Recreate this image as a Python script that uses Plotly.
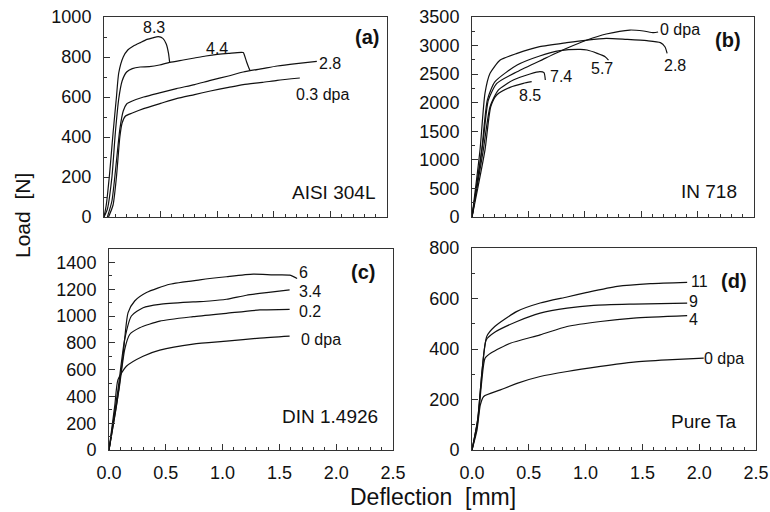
import plotly.graph_objects as go

# ---- (a) AISI 304L ----
a_83_x = [0.0, 0.02, 0.05, 0.08, 0.11, 0.13, 0.17, 0.21, 0.26, 0.32, 0.38, 0.43, 0.48, 0.52, 0.55, 0.57, 0.58]
a_83_y = [0, 60, 220, 420, 600, 720, 800, 835, 855, 872, 888, 896, 902, 893, 865, 818, 772]
a_44_x = [0.0, 0.03, 0.07, 0.10, 0.13, 0.16, 0.20, 0.25, 0.32, 0.40, 0.49, 0.58, 0.70, 0.80, 0.90, 1.00, 1.10, 1.23, 1.24, 1.26, 1.28, 1.29]
a_44_y = [0, 40, 200, 420, 590, 680, 725, 742, 750, 752, 760, 773, 785, 795, 805, 813, 818, 822, 810, 775, 745, 732]
a_28_x = [0.03, 0.07, 0.11, 0.14, 0.17, 0.20, 0.25, 0.35, 0.50, 0.64, 0.80, 0.94, 1.10, 1.23, 1.40, 1.53, 1.70, 1.88]
a_28_y = [0, 80, 280, 440, 530, 565, 580, 600, 622, 642, 662, 683, 705, 725, 742, 755, 767, 778]
a_03_x = [0.04, 0.08, 0.11, 0.14, 0.16, 0.19, 0.25, 0.35, 0.50, 0.64, 0.80, 0.94, 1.10, 1.23, 1.40, 1.53, 1.73]
a_03_y = [0, 60, 200, 400, 470, 505, 520, 542, 568, 592, 612, 630, 648, 662, 673, 683, 695]

# ---- (b) IN 718 ----
b_0_x = [0.0, 0.05, 0.10, 0.145, 0.22, 0.40, 0.63, 0.84, 1.02, 1.19, 1.40, 1.52, 1.61, 1.65]
b_0_y = [0, 650, 1347, 2047, 2339, 2543, 2759, 2952, 3097, 3202, 3272, 3255, 3226, 3238]
b_28_x = [0.0, 0.071, 0.115, 0.16, 0.25, 0.40, 0.60, 0.84, 1.02, 1.19, 1.37, 1.55, 1.67, 1.71, 1.73]
b_28_y = [0, 1172, 2164, 2514, 2747, 2864, 2980, 3051, 3097, 3126, 3108, 3085, 3051, 2980, 2864]
b_57_x = [0.0, 0.086, 0.136, 0.204, 0.40, 0.60, 0.78, 0.96, 1.02, 1.11, 1.18, 1.21]
b_57_y = [0, 1172, 2047, 2368, 2660, 2818, 2911, 2934, 2922, 2864, 2806, 2747]
b_74_x = [0.0, 0.10, 0.16, 0.233, 0.366, 0.514, 0.603, 0.638, 0.65]
b_74_y = [0, 1172, 1930, 2222, 2397, 2502, 2543, 2526, 2397]
b_85_x = [0.0, 0.115, 0.166, 0.219, 0.337, 0.455, 0.529]
b_85_y = [0, 1172, 1930, 2135, 2269, 2339, 2368]

# ---- (c) DIN 1.4926 ----
c_6_x = [0.0, 0.065, 0.123, 0.168, 0.226, 0.33, 0.535, 0.80, 1.034, 1.27, 1.445, 1.59, 1.656]
c_6_y = [0, 325, 700, 1025, 1112, 1175, 1237, 1270, 1293, 1312, 1307, 1305, 1280]
c_34_x = [0.0, 0.079, 0.138, 0.197, 0.30, 0.447, 0.74, 0.887, 1.034, 1.21, 1.387, 1.59]
c_34_y = [0, 450, 825, 1000, 1062, 1087, 1105, 1112, 1125, 1155, 1175, 1195]
c_02_x = [0.0, 0.088, 0.138, 0.182, 0.27, 0.447, 0.74, 1.034, 1.328, 1.59]
c_02_y = [0, 450, 750, 862, 912, 962, 995, 1020, 1045, 1050]
c_0_x = [0.0, 0.05, 0.079, 0.153, 0.30, 0.447, 0.74, 1.034, 1.328, 1.59]
c_0_y = [0, 325, 525, 625, 700, 745, 790, 812, 835, 850]

# ---- (d) Pure Ta ----
d_11_x = [0.0, 0.05, 0.09, 0.13, 0.20, 0.396, 0.60, 0.837, 1.013, 1.278, 1.571, 1.894]
d_11_y = [0, 120, 320, 450, 489, 549, 582, 606, 624, 648, 659, 664]
d_9_x = [0.0, 0.05, 0.09, 0.125, 0.20, 0.396, 0.60, 0.837, 1.071, 1.424, 1.894]
d_9_y = [0, 120, 320, 436, 466, 509, 542, 562, 573, 578, 582]
d_4_x = [0.0, 0.05, 0.085, 0.115, 0.17, 0.337, 0.60, 0.837, 1.131, 1.424, 1.894]
d_4_y = [0, 110, 270, 364, 385, 423, 456, 489, 509, 522, 532]
d_0_x = [0.0, 0.044, 0.073, 0.103, 0.25, 0.396, 0.60, 0.837, 1.131, 1.424, 1.718, 2.04]
d_0_y = [0, 79, 178, 212, 238, 264, 291, 311, 331, 348, 357, 364]

# curve labels: (text, x, y)
a_labels = [("8.3", 0.44, 948), ("4.4", 0.995, 843), ("2.8", 2.0, 768), ("0.3 dpa", 1.93, 615)]
b_labels = [("0 dpa", 1.844, 3284), ("2.8", 1.80, 2660), ("5.7", 1.15, 2602), ("7.4", 0.786, 2467), ("8.5", 0.514, 2123)]
c_labels = [("6", 1.71, 1325), ("3.4", 1.77, 1180), ("0.2", 1.77, 1037), ("0 dpa", 1.87, 825)]
d_labels = [("11", 2.0, 668), ("9", 1.95, 588), ("4", 1.95, 516), ("0 dpa", 2.217, 364)]

panel_tags = [("(a)", 2.32, 901), ("(b)", 2.27, 3097), ("(c)", 2.24, 1325), ("(d)", 2.305, 668)]
materials = [("AISI 304L", 2.03, 123), ("IN 718", 2.10, 443), ("DIN 1.4926", 1.944, 250), ("Pure Ta", 2.04, 112)]

W, H = 770, 512
FONT = "Liberation Sans, Arial, sans-serif"

fig = go.Figure()

panels = [
    ("x", "y", [(a_83_x, a_83_y), (a_44_x, a_44_y), (a_28_x, a_28_y), (a_03_x, a_03_y)], a_labels),
    ("x2", "y2", [(b_0_x, b_0_y), (b_28_x, b_28_y), (b_57_x, b_57_y), (b_74_x, b_74_y), (b_85_x, b_85_y)], b_labels),
    ("x3", "y3", [(c_6_x, c_6_y), (c_34_x, c_34_y), (c_02_x, c_02_y), (c_0_x, c_0_y)], c_labels),
    ("x4", "y4", [(d_11_x, d_11_y), (d_9_x, d_9_y), (d_4_x, d_4_y), (d_0_x, d_0_y)], d_labels),
]

annotations = []
for i, (xa, ya, curves, labels) in enumerate(panels):
    for cx, cy in curves:
        fig.add_trace(go.Scatter(x=cx, y=cy, xaxis=xa, yaxis=ya, mode="lines",
                                 line=dict(color="#111111", width=1.2, shape="spline", smoothing=0.6),
                                 showlegend=False, hoverinfo="skip"))
    for text, lx, ly in labels:
        annotations.append(dict(text=text, x=lx, y=ly, xref=xa, yref=ya, showarrow=False,
                                font=dict(family=FONT, size=16, color="#111111")))
    tag = panel_tags[i]
    annotations.append(dict(text="<b>%s</b>" % tag[0], x=tag[1], y=tag[2], xref=xa, yref=ya,
                            showarrow=False, font=dict(family=FONT, size=20, color="#111111")))
    mat = materials[i]
    annotations.append(dict(text=mat[0], x=mat[1], y=mat[2], xref=xa, yref=ya,
                            showarrow=False, font=dict(family=FONT, size=19, color="#111111")))

annotations.append(dict(text="Load  [N]", x=22 / W, y=1 - 216 / H, xref="paper", yref="paper",
                        xanchor="center", yanchor="middle",
                        textangle=-90, showarrow=False, font=dict(family=FONT, size=21, color="#111111")))
annotations.append(dict(text="Deflection  [mm]", x=433 / W, y=1 - 497 / H, xref="paper", yref="paper",
                        xanchor="center", yanchor="middle",
                        showarrow=False, font=dict(family=FONT, size=23, color="#111111")))


def xaxis(dom, anchor, labels):
    return dict(domain=dom, anchor=anchor, range=[0, 2.5], dtick=0.5, tick0=0, tickformat=".1f",
                ticks="inside", ticklen=6, tickcolor="#333333", showticklabels=labels,
                minor=dict(ticks="inside", ticklen=3, dtick=0.1, tickcolor="#333333"),
                showline=True, mirror=True, linecolor="#333333", linewidth=1,
                showgrid=False, zeroline=False, ticklabelstandoff=6, automargin=False,
                tickfont=dict(family=FONT, size=18, color="#111111"))


def yaxis(dom, anchor, top, major, minor):
    return dict(domain=dom, anchor=anchor, range=[0, top], dtick=major, tick0=0,
                ticks="inside", ticklen=6, tickcolor="#333333",
                minor=dict(ticks="inside", ticklen=3, dtick=minor, tickcolor="#333333"),
                showline=True, mirror=True, linecolor="#333333", linewidth=1,
                showgrid=False, zeroline=False, ticklabelstandoff=8, automargin=False,
                tickfont=dict(family=FONT, size=18, color="#111111"))


fig.update_layout(
    width=W, height=H, margin=dict(l=0, r=0, t=0, b=0, autoexpand=False),
    paper_bgcolor="white", plot_bgcolor="white",
    xaxis=xaxis([104 / W, 387 / W], "y", False),
    yaxis=yaxis([1 - 217 / H, 1 - 17 / H], "x", 1000, 200, 100),
    xaxis2=xaxis([472 / W, 754 / W], "y2", False),
    yaxis2=yaxis([1 - 217 / H, 1 - 17 / H], "x2", 3500, 500, 250),
    xaxis3=xaxis([109 / W, 393 / W], "y3", True),
    yaxis3=yaxis([1 - 450 / H, 1 - 249 / H], "x3", 1500, 200, 100),
    xaxis4=xaxis([472 / W, 756 / W], "y4", True),
    yaxis4=yaxis([1 - 450 / H, 1 - 248 / H], "x4", 800, 200, 100),
    annotations=annotations,
)

fig.write_html("out.html")
